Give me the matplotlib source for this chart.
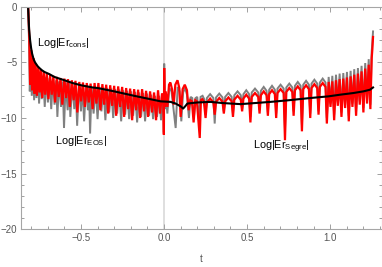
import matplotlib
matplotlib.use("Agg")
import matplotlib.pyplot as plt
from matplotlib.ticker import MultipleLocator

plt.rcParams['font.family'] = ['Liberation Sans', 'DejaVu Sans']
plt.rcParams['mathtext.fontset'] = 'custom'
plt.rcParams['mathtext.rm'] = 'Liberation Sans'
plt.rcParams['mathtext.it'] = 'Liberation Sans'

# Log|Er_EOS|  (gray)
gray_t = [
    -0.818, -0.812, -0.808, -0.802, -0.796, -0.789, -0.782, -0.775, -0.768, -0.760,
    -0.752, -0.744, -0.736, -0.727, -0.718, -0.709, -0.699, -0.689, -0.679, -0.669,
    -0.659, -0.649, -0.642, -0.632, -0.620, -0.610, -0.602, -0.592, -0.580, -0.570,
    -0.564, -0.552, -0.540, -0.532, -0.523, -0.512, -0.500, -0.491, -0.481, -0.470,
    -0.458, -0.452, -0.445, -0.436, -0.424, -0.412, -0.400, -0.389, -0.377, -0.365,
    -0.353, -0.342, -0.330, -0.318, -0.306, -0.294, -0.282, -0.270, -0.258, -0.246,
    -0.234, -0.222, -0.210, -0.198, -0.186, -0.174, -0.162, -0.150, -0.138, -0.126,
    -0.114, -0.102, -0.090, -0.078, -0.066, -0.054, -0.042, -0.030, -0.018, -0.008,
    -0.003, -0.001, 0.001, 0.004,
    0.010, 0.020, 0.032, 0.045, 0.058, 0.070, 0.082, 0.094, 0.104, 0.115,
    0.127, 0.138, 0.150, 0.160, 0.170, 0.180, 0.190, 0.200, 0.210, 0.220,
    0.232, 0.242,
    0.250, 0.258, 0.2775, 0.297, 0.305, 0.313, 0.3325, 0.352, 0.360, 0.368,
    0.3875, 0.407, 0.415, 0.423, 0.4425, 0.462, 0.470, 0.478, 0.495, 0.512,
    0.520, 0.528, 0.5475, 0.567, 0.575, 0.583, 0.600, 0.617, 0.625, 0.633,
    0.650, 0.667, 0.675, 0.683, 0.7015, 0.720, 0.728, 0.736, 0.754, 0.772,
    0.780, 0.788, 0.805, 0.822, 0.830, 0.838, 0.855, 0.872, 0.880, 0.888,
    0.905, 0.922, 0.930, 0.938, 0.955, 0.972, 0.980,
    0.991, 1.002, 1.013, 1.024, 1.035, 1.046, 1.057, 1.068, 1.079, 1.090,
    1.101, 1.112, 1.123, 1.134, 1.145, 1.156, 1.167, 1.178, 1.189, 1.200,
    1.211, 1.222, 1.232, 1.242, 1.250, 1.254, 1.258,
]
gray_y = [
    0.3, -3.5, -7.6, -4.4, -8.0, -5.0, -8.4, -5.5, -8.2, -5.8,
    -8.7, -6.0, -8.3, -6.2, -9.0, -6.3, -8.6, -6.4, -9.2, -6.5,
    -8.8, -6.6, -9.9, -6.7, -9.0, -6.7, -10.9, -6.8, -9.3, -6.8,
    -9.9, -6.9, -9.2, -6.95, -10.7, -7.0, -9.4, -7.05, -10.3, -7.1,
    -9.3, -7.15, -11.4, -7.2, -9.6, -7.2, -10.1, -7.2, -9.4, -7.25,
    -10.2, -7.3, -9.5, -7.35, -10.0, -7.4, -9.6, -7.45, -10.3, -7.5,
    -9.7, -7.55, -10.1, -7.6, -9.8, -7.65, -10.4, -7.7, -9.9, -7.75,
    -10.3, -7.8, -9.8, -7.9, -10.1, -8.0, -9.9, -8.0, -10.2, -8.1,
    -9.0, -11.3, -5.1, -9.2,
    -7.9, -9.6, -7.3, -7.6, -9.3, -10.9, -7.2, -7.6, -10.3, -7.7,
    -7.3, -7.9, -10.0, -8.1, -8.2, -9.9, -8.2, -8.1, -10.2, -8.1,
    -8.0, -8.3,
    -9.7, -8.2, -7.85, -8.2, -10.5, -8.15, -7.8, -8.15, -9.4, -8.1,
    -7.75, -8.1, -9.6, -7.95, -7.6, -7.95, -9.2, -7.85, -7.5, -7.85,
    -9.9, -7.7, -7.35, -7.7, -9.3, -7.55, -7.2, -7.55, -9.5, -7.45,
    -7.1, -7.45, -9.6, -7.35, -7.0, -7.35, -11.0, -7.25, -6.9, -7.25,
    -9.4, -7.1, -6.75, -7.1, -10.6, -7.0, -6.65, -7.0, -9.6, -6.9,
    -6.55, -6.9, -9.4, -6.8, -6.45, -6.8, -10.0,
    -6.3, -8.7, -6.2, -9.7, -6.1, -8.6, -6.0, -9.5, -5.95, -8.8,
    -5.85, -9.8, -5.75, -8.7, -5.6, -9.4, -5.5, -8.5, -5.3, -9.1,
    -5.05, -8.4, -4.7, -8.8, -4.0, -3.2, -2.2,
]

# Log|Er_Segre|  (red)
red_t = [
    -0.818, -0.811, -0.806, -0.800, -0.794, -0.787, -0.780, -0.773, -0.765, -0.757,
    -0.749, -0.741, -0.733, -0.724, -0.715, -0.706, -0.696, -0.686, -0.676, -0.666,
    -0.656, -0.645, -0.634, -0.623, -0.612, -0.600, -0.589, -0.578, -0.567, -0.555,
    -0.544, -0.533, -0.522, -0.510, -0.499, -0.488, -0.476, -0.465, -0.453, -0.442,
    -0.430, -0.418, -0.407, -0.395, -0.383, -0.371, -0.360, -0.348, -0.336, -0.324,
    -0.312, -0.300, -0.288, -0.276, -0.264, -0.252, -0.240, -0.228, -0.216, -0.204,
    -0.192, -0.180, -0.168, -0.156, -0.144, -0.132, -0.120, -0.108, -0.096, -0.084,
    -0.072, -0.060, -0.048, -0.036, -0.024, -0.012, -0.004, -0.001, 0.001, 0.004,
    0.010, 0.020, 0.030, 0.038, 0.048, 0.058, 0.068, 0.081, 0.092, 0.100,
    0.112, 0.125, 0.138, 0.148, 0.158, 0.168, 0.178, 0.188, 0.198, 0.215,
    0.222, 0.230, 0.240,
    0.250, 0.258, 0.2775, 0.297, 0.305, 0.313, 0.3325, 0.352, 0.360, 0.368,
    0.3875, 0.407, 0.415, 0.423, 0.4425, 0.462, 0.470, 0.478, 0.495, 0.512,
    0.520, 0.528, 0.5475, 0.567, 0.575, 0.583, 0.600, 0.617, 0.625, 0.633,
    0.650, 0.667, 0.675, 0.683, 0.7015, 0.720, 0.728, 0.736, 0.754, 0.772,
    0.780, 0.788, 0.805, 0.822, 0.830, 0.838, 0.855, 0.872, 0.880, 0.888,
    0.905, 0.922, 0.930, 0.938, 0.955, 0.972, 0.980,
    0.991, 1.002, 1.013, 1.024, 1.035, 1.046, 1.057, 1.068, 1.079, 1.090,
    1.101, 1.112, 1.123, 1.134, 1.145, 1.156, 1.167, 1.178, 1.189, 1.200,
    1.211, 1.222, 1.232, 1.242, 1.250, 1.254, 1.258,
]
red_y = [
    0.3, -2.9, -7.0, -3.9, -7.5, -4.6, -7.8, -5.1, -8.0, -5.4,
    -7.7, -5.65, -8.2, -5.85, -7.9, -6.0, -8.3, -6.1, -7.9, -6.2,
    -8.6, -6.3, -8.1, -6.4, -8.8, -6.45, -8.2, -6.5, -9.0, -6.6,
    -8.4, -6.65, -9.5, -6.75, -8.5, -6.8, -9.0, -6.85, -8.6, -6.9,
    -9.2, -6.85, -8.7, -6.85, -9.3, -6.95, -8.8, -7.0, -9.6, -7.05,
    -8.9, -7.1, -9.8, -7.15, -9.0, -7.2, -9.9, -7.3, -9.2, -7.35,
    -10.2, -7.4, -9.3, -7.45, -10.0, -7.4, -9.4, -7.55, -9.9, -7.6,
    -9.5, -7.7, -10.2, -7.5, -9.6, -7.8, -8.6, -11.5, -5.5, -9.0,
    -7.6, -9.0, -7.0, -6.8, -7.4, -8.8, -7.0, -6.6, -7.3, -9.9,
    -7.4, -7.0, -7.5, -9.3, -8.4, -8.5, -10.4, -8.4, -8.5, -11.8,
    -8.4, -8.3, -8.5,
    -10.0, -8.6, -8.25, -8.6, -9.7, -8.55, -8.2, -8.55, -9.6, -8.5,
    -8.15, -8.5, -9.9, -8.35, -8.0, -8.35, -9.4, -8.25, -7.9, -8.25,
    -10.4, -8.1, -7.75, -8.1, -9.6, -7.95, -7.6, -7.95, -9.8, -7.85,
    -7.5, -7.85, -10.0, -7.75, -7.4, -7.75, -12.0, -7.65, -7.3, -7.65,
    -9.8, -7.5, -7.15, -7.5, -11.2, -7.4, -7.05, -7.4, -10.0, -7.3,
    -6.95, -7.3, -9.7, -7.2, -6.85, -7.2, -10.5,
    -6.75, -9.0, -6.7, -10.2, -6.6, -8.9, -6.5, -9.9, -6.45, -9.1,
    -6.35, -10.3, -6.25, -9.0, -6.1, -9.8, -6.0, -8.8, -5.8, -9.5,
    -5.55, -8.7, -5.2, -9.2, -4.6, -3.8, -2.7,
]

# Log|Er_cons|  (black)
cons_t = [
    -0.820, -0.812, -0.806, -0.800, -0.794, -0.785, -0.776, -0.760, -0.750, -0.735,
    -0.720, -0.690, -0.660, -0.600, -0.550, -0.500, -0.430, -0.400, -0.300, -0.180,
    -0.100, -0.020, 0.040, 0.070, 0.100, 0.115, 0.130, 0.140, 0.200, 0.280,
    0.350, 0.460, 0.550, 0.640, 0.750, 0.880, 0.990, 1.060, 1.140, 1.200,
    1.240, 1.258,
]
cons_y = [
    0.5, -2.0, -3.0, -3.7, -4.2, -4.7, -5.0, -5.35, -5.5, -5.7,
    -5.85, -6.05, -6.3, -6.6, -6.85, -7.05, -7.25, -7.3, -7.6, -8.0,
    -8.25, -8.5, -8.55, -8.7, -8.95, -9.15, -8.9, -8.7, -8.6, -8.55,
    -8.65, -8.75, -8.65, -8.55, -8.4, -8.2, -8.05, -7.9, -7.75, -7.6,
    -7.45, -7.25,
]

x_ticks = [-0.5, 0.0, 0.5, 1.0]
x_tick_labels = ["\u22120.5", "0.0", "0.5", "1.0"]
y_ticks = [0, -5, -10, -15, -20]
y_tick_labels = ["0", "\u22125", "\u221210", "\u221215", "\u221220"]

fig = plt.figure(figsize=(3.82, 2.67), dpi=100)
ax = fig.add_axes([0.0558, 0.1423, 0.9429, 0.8315])

ax.axvline(0, color="#dcdcdc", lw=1.3, zorder=0)
ax.plot(gray_t, gray_y, color="#808080", lw=1.4, solid_joinstyle="miter")
ax.plot(red_t, red_y, color="#ff0000", lw=1.6, solid_joinstyle="miter")
ax.plot(cons_t, cons_y, color="black", lw=1.5)

ax.set_xlim(-0.859, 1.309)
ax.set_ylim(-20, 0)

ax.set_xticks(x_ticks)
ax.set_xticklabels(x_tick_labels)
ax.set_yticks(y_ticks)
ax.set_yticklabels(y_tick_labels)
ax.xaxis.set_minor_locator(MultipleLocator(0.1))
ax.yaxis.set_minor_locator(MultipleLocator(1))
ax.tick_params(which="both", direction="in", top=True, right=True,
               color="#a0a0a0", width=0.7, labelsize=7, labelcolor="#555555")
ax.tick_params(which="major", length=3.5, pad=3)
ax.tick_params(which="minor", length=2)
for s in ax.spines.values():
    s.set_color("#a6a6a6")
    s.set_linewidth(0.8)

ax.set_xlabel("t", fontsize=7, color="#555555", labelpad=8)

ax.text(-0.608, -3.2, r"Log|Er$_{\mathrm{cons}}$|", fontsize=7.8, ha="center", va="center")
ax.text(-0.50, -12.1, r"Log|Er$_{\mathrm{EOS}}$|", fontsize=7.8, ha="center", va="center")
ax.text(0.704, -12.6, r"Log|Er$_{\mathrm{Segre}}$|", fontsize=7.8, ha="center", va="center")

fig.savefig("out.png", dpi=100)
